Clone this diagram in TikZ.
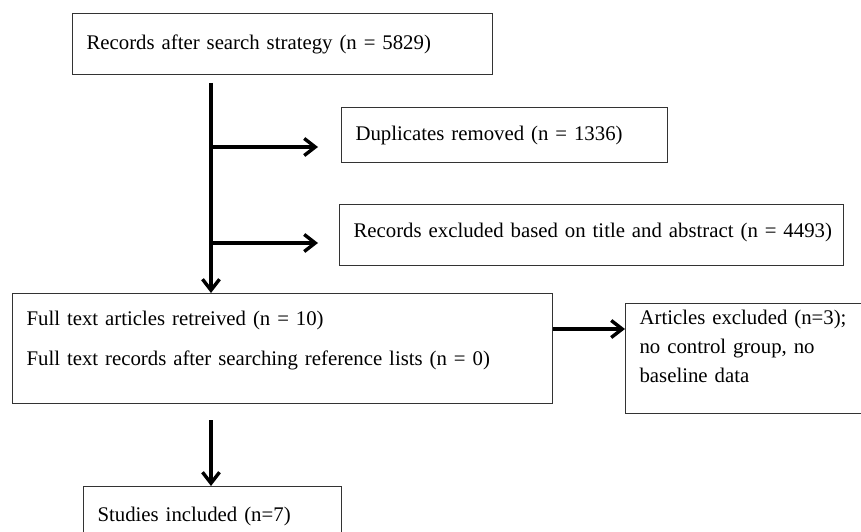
\documentclass[tikz,border=0pt]{standalone}
\usepackage{fontspec}
\setmainfont{Liberation Serif}
\usetikzlibrary{arrows.meta}

\tikzset{
    box/.style={draw=black!80, line width=1.1pt, anchor=north west, inner xsep=14pt,
        align=left, font=\fontsize{20.8}{29}\selectfont},
    flow/.style={->, line width=3.4pt},
}

\begin{document}
\begin{tikzpicture}[x=1pt, y=-1pt, >={Straight Barb[length=11pt,width=17pt]}]
    \useasboundingbox (0,0) rectangle (861,532);

    % Boxes {records, dup, screened, full, excl, incl}
    \node [box, text width=392pt, minimum width=420pt, minimum height=61pt]  (records)  at (72,13)   {Records after search strategy (n = 5829)};
    \node [box, text width=298pt, minimum width=326pt, minimum height=55pt]  (dup)      at (341,107) {Duplicates removed (n = 1336)};
    \node [box, text width=476pt, minimum width=504pt, minimum height=61pt]  (screened) at (339,204) {\mbox{Records excluded based on title and abstract (n = 4493)}\\[-19pt]\mbox{}};
    \node [box, text width=512pt, minimum width=540pt, minimum height=110pt] (full)     at (12,293)  {Full text articles retreived (n = 10)\\[11pt]Full text records after searching reference lists (n = 0)\\[-9pt]\mbox{}};
    \node [box, text width=222pt, minimum width=250pt, minimum height=110pt] (excl)     at (625,303) {Articles excluded (n=3);\\no control group, no\\baseline data\\[-5pt]\mbox{}};
    \node [box, text width=230pt, minimum width=258pt, minimum height=60pt]  (incl)     at (83,486)  {Studies included (n=7)};

    % Junctions
    \coordinate (trunk)   at (211,83);
    \coordinate (dupjoin) at (211,147);
    \coordinate (dupend)  at (318,147);
    \coordinate (scrjoin) at (211,243);
    \coordinate (scrend)  at (318,243);
    \coordinate (exclrow) at (0,329);
    \coordinate (incltop) at (211,420);

    % Paths
    \draw [flow] (trunk) -- (trunk |- full.north);
    \draw [flow] (dupjoin) -- (dupend);
    \draw [flow] (scrjoin) -- (scrend);
    \draw [flow] (full.east |- exclrow) -- (excl.west |- exclrow);
    \draw [flow] (incltop) -- (incltop |- incl.north);
\end{tikzpicture}
\end{document}
